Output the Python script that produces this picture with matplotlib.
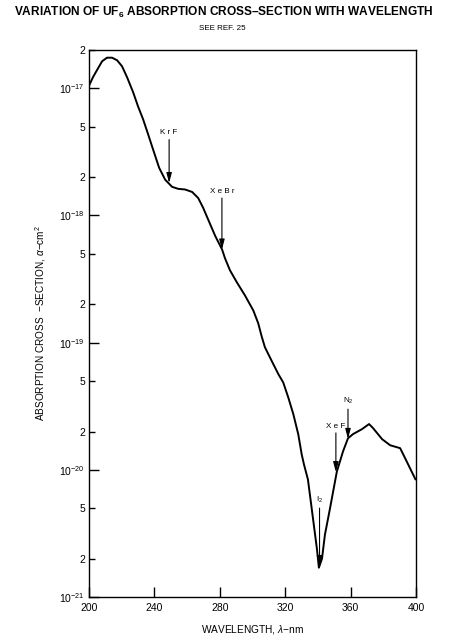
import matplotlib
matplotlib.use("Agg")
import matplotlib.pyplot as plt
from matplotlib.ticker import FixedLocator, FixedFormatter

plt.rcParams['font.family'] = ['Liberation Sans', 'DejaVu Sans']
plt.rcParams['mathtext.fontset'] = 'custom'
plt.rcParams['mathtext.rm'] = 'Liberation Sans'
plt.rcParams['mathtext.it'] = 'Liberation Sans:italic'
plt.rcParams['mathtext.bf'] = 'Liberation Sans:bold'

# wavelength (nm) and absorption cross-section (cm^2)
wavelength = [200.2, 202.4, 204.9, 208.0, 211.0, 214.1, 217.2, 220.2, 223.3, 227.0,
              230.0, 233.1, 236.2, 239.2, 242.9, 246.6, 250.8, 254.5, 258.8, 263.1,
              266.8, 269.8, 273.5, 277.2, 281.4, 283.2, 286.2, 290.3, 295.4, 300.5,
              303.5, 305.6, 307.6, 311.7, 315.8, 318.8, 321.9, 325.0, 328.0, 330.1,
              331.5, 333.9, 337.0, 339.4, 340.6, 342.5, 344.3, 347.4, 351.6, 355.4,
              358.4, 361.5, 367.0, 371.3, 373.7, 379.3, 384.2, 390.3, 393.4, 399.7]
cross_section = [1.06e-17, 1.22e-17, 1.39e-17, 1.63e-17, 1.74e-17, 1.74e-17, 1.66e-17,
                 1.49e-17, 1.22e-17, 9.3e-18, 7.2e-18, 5.7e-18, 4.33e-18, 3.3e-18,
                 2.37e-18, 1.91e-18, 1.68e-18, 1.62e-18, 1.60e-18, 1.53e-18, 1.37e-18,
                 1.15e-18, 8.9e-19, 6.9e-19, 5.4e-19, 4.6e-19, 3.71e-19, 3.0e-19,
                 2.35e-19, 1.79e-19, 1.42e-19, 1.12e-19, 9.2e-20, 7.2e-20, 5.66e-20,
                 4.86e-20, 3.70e-20, 2.73e-20, 1.90e-20, 1.32e-20, 1.10e-20, 8.4e-21,
                 4.14e-21, 2.39e-21, 1.70e-21, 2.0e-21, 3.09e-21, 4.97e-21, 9.7e-21,
                 1.40e-20, 1.77e-20, 1.91e-20, 2.09e-20, 2.29e-20, 2.13e-20, 1.74e-20,
                 1.56e-20, 1.48e-20, 1.23e-20, 8.4e-21]

# laser line markers: label, wavelength, arrow tip, arrow tail
laser_labels = ['K r F', 'X e B r', r'I$_2$', 'X e F', r'N$_2$']
laser_wl = [249.0, 281.3, 341.0, 351.0, 358.4]
arrow_tip = [1.80e-18, 5.4e-19, 1.75e-21, 9.6e-21, 1.75e-20]
arrow_tail = [3.95e-18, 1.37e-18, 5.0e-21, 1.95e-20, 3.0e-20]

x_ticks = [200, 240, 280, 320, 360, 400]
y_major = [1e-21, 1e-20, 1e-19, 1e-18, 1e-17]
y_major_labels = [r'$10^{-21}$', r'$10^{-20}$', r'$10^{-19}$', r'$10^{-18}$', r'$10^{-17}$']
y_minor = [2e-21, 5e-21, 2e-20, 5e-20, 2e-19, 5e-19, 2e-18, 5e-18, 2e-17]
y_minor_labels = ['2', '5', '2', '5', '2', '5', '2', '5', '2']

fig = plt.figure(figsize=(4.62, 6.40), dpi=100)
ax = fig.add_axes([89/462, 1-597/640, (416-89)/462, (597-50)/640])
ax.set_yscale('log')
ax.set_xlim(200, 400)
ax.set_ylim(1e-21, 2e-17)

ax.plot(wavelength, cross_section, color='black', lw=1.4,
        solid_joinstyle='round', solid_capstyle='round')

for lab, wl, tip, tail in zip(laser_labels, laser_wl, arrow_tip, arrow_tail):
    ax.annotate('', xy=(wl, tip), xytext=(wl, tail),
                arrowprops=dict(arrowstyle='-|>,head_length=0.6,head_width=0.16',
                                color='black', lw=0.8, shrinkA=0, shrinkB=0))
    ax.text(wl, tail * 1.06, lab, ha='center', va='bottom', fontsize=5.8)

ax.xaxis.set_major_locator(FixedLocator(x_ticks))
ax.set_xticklabels([str(t) for t in x_ticks])
ax.yaxis.set_major_locator(FixedLocator(y_major))
ax.yaxis.set_major_formatter(FixedFormatter(y_major_labels))
ax.yaxis.set_minor_locator(FixedLocator(y_minor))
ax.yaxis.set_minor_formatter(FixedFormatter(y_minor_labels))

ax.tick_params(axis='x', which='major', direction='in', length=7, width=1, labelsize=7.5, pad=4)
ax.tick_params(axis='y', which='major', direction='in', length=7, width=1, labelsize=7.5, pad=3)
ax.tick_params(axis='y', which='minor', direction='in', length=4.5, width=1, labelsize=7.5, pad=3)
ax.tick_params(top=False, right=False)
for s in ax.spines.values():
    s.set_linewidth(1.0)

ax.set_xlabel(r'WAVELENGTH, $\lambda$$-$nm', fontsize=7.3)
ax.xaxis.set_label_coords(0.5, -(623 - 597) / 547)
ax.set_ylabel(r'ABSORPTION CROSS  $-$SECTION, $\alpha$$-$cm$^2$', fontsize=7.2)
ax.yaxis.set_label_coords(-(89 - 48) / 327, 0.5)

fig.text(224/462, 1-12/640, r'VARIATION OF UF$_\mathbf{6}$ ABSORPTION CROSS–SECTION WITH WAVELENGTH',
         ha='center', va='center', fontsize=8.6, fontweight='bold')
fig.text(222/462, 1-28/640, 'SEE REF. 25', ha='center', va='center', fontsize=5.8)

fig.savefig('out.png', dpi=100)
